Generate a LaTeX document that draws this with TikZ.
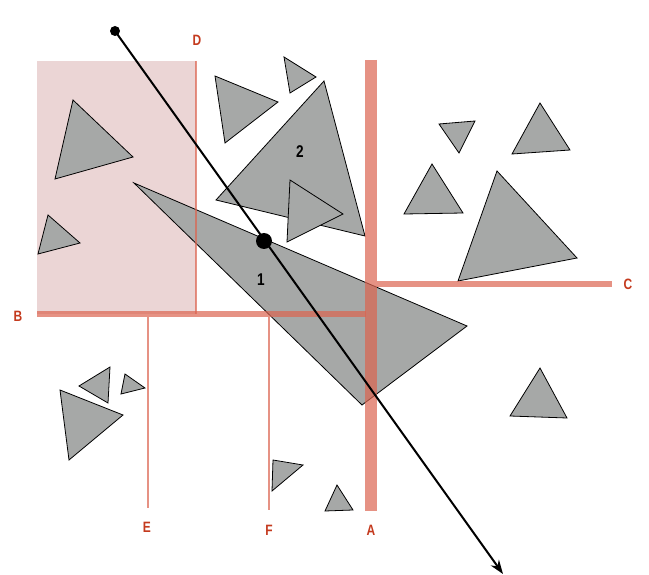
\documentclass[tikz,border=0pt]{standalone}
\usepackage{fontspec}
\setmainfont{Liberation Sans}[FakeStretch=0.8]
\usetikzlibrary{arrows.meta}
\definecolor{tri}{HTML}{A6A8A7}
\definecolor{part}{HTML}{DC6450}
\definecolor{lab}{HTML}{C43A1E}
\definecolor{pinkbg}{HTML}{EBD5D5}
\tikzset{
  trishape/.style={fill=tri,draw=black,line width=0.8pt,line join=miter},
  partline/.style={draw=part,opacity=0.7},
  lbl/.style={text=lab,font=\bfseries\fontsize{15}{15}\selectfont},
  num/.style={font=\bfseries\fontsize{17}{17}\selectfont}
}
\begin{document}
\begin{tikzpicture}[x=1pt,y=-1pt]
\useasboundingbox (0,0) rectangle (649,575);
\fill[pinkbg] (37,61) rectangle (196,314);
% triangles
\foreach \a/\b/\c in {
 {73,100}/{133,157}/{55,179},
 {48,215}/{80,243}/{38,254},
 {215,76}/{278,102}/{225,143},
 {284,57}/{316,77}/{290,93},
 {324,81}/{365,236}/{216,200},
 {290,180}/{343,214}/{287,242},
 {134,183}/{467,326}/{362,405},
 {439,124}/{475,121}/{459,153},
 {540,103}/{570,150}/{512,154},
 {432,164}/{463,213}/{404,214},
 {497,171}/{577,258}/{458,281},
 {79,386}/{110,367}/{108,403},
 {125,374}/{145,388}/{121,394},
 {60,390}/{123,415}/{69,460},
 {540,368}/{567,418}/{510,416},
 {273,460}/{303,465}/{272,491},
 {337,485}/{353,510}/{325,511}}
 \draw[trishape] (\a) -- (\b) -- (\c) -- cycle;
% partition lines
\coordinate (d1) at (196,61); \coordinate (d2) at (196,314);
\coordinate (a1) at (371,60); \coordinate (a2) at (371,511);
\coordinate (b1) at (37,314); \coordinate (b2) at (366,314);
\coordinate (c1) at (377,284); \coordinate (c2) at (612,284);
\coordinate (e1) at (148,317); \coordinate (e2) at (148,508);
\coordinate (f1) at (269,317); \coordinate (f2) at (269,510);
\draw[partline,line width=2.5pt] (d1) -- (d2);
\draw[partline,line width=6pt] (b1) -- (b2);
\draw[partline,line width=6pt] (c1) -- (c2);
\draw[partline,line width=2.5pt] (e1) -- (e2);
\draw[partline,line width=2.5pt] (f1) -- (f2);
\draw[partline,line width=12pt] (a1) -- (a2);
\node[lbl] (la) at (371,530) {A};
\node[lbl] (lb) at (18,316) {B};
\node[lbl] (lc) at (628,284) {C};
\node[lbl] (ld) at (197,40) {D};
\node[lbl] (le) at (147,527) {E};
\node[lbl] (lf) at (269,530) {F};
\node[num] (n1) at (261,280) {1};
\node[num] (n2) at (300,152) {2};
% ray
\coordinate (r0) at (115,31);
\coordinate (r1) at (264,241);
\coordinate (r2) at (503,574);
\draw[line width=2pt,-{Stealth[length=14pt,width=10pt]}] (r0) -- (r2);
\fill (r0) circle (5);
\fill (r1) circle (8);
\end{tikzpicture}
\end{document}
